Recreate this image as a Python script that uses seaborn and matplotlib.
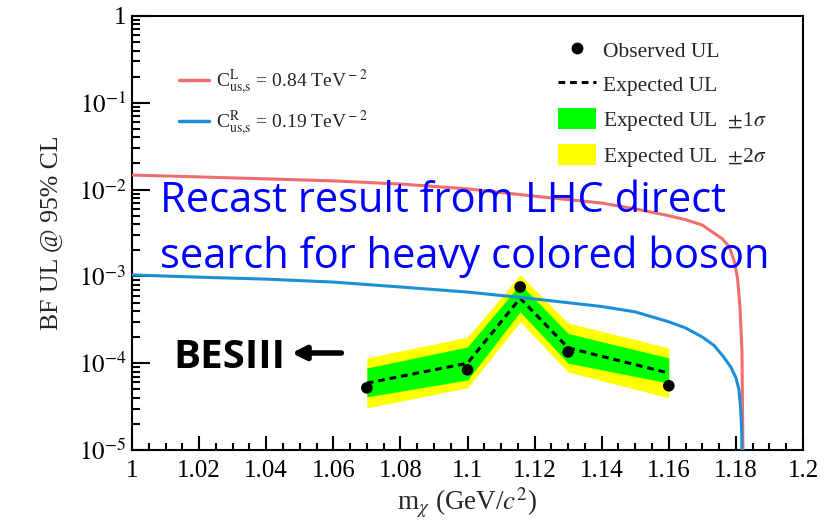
import matplotlib
matplotlib.use("Agg")
import matplotlib.pyplot as plt
from matplotlib.lines import Line2D
from matplotlib.patches import Patch
from matplotlib.ticker import FixedLocator, FixedFormatter, MultipleLocator, LogLocator, NullFormatter
import numpy as np
import pandas as pd
import seaborn as sns

# recast curves (LHC direct search)
mass_L = [1.00, 1.02, 1.04, 1.06, 1.08, 1.10, 1.12, 1.14, 1.15, 1.16, 1.165, 1.17, 1.1735, 1.176, 1.178,
          1.1795, 1.1805, 1.1812, 1.1818, 1.1821]
bf_L = [1.47e-2, 1.40e-2, 1.33e-2, 1.26e-2, 1.16e-2, 1.02e-2, 8.4e-3, 7.0e-3, 6.0e-3, 5.0e-3, 4.5e-3, 3.9e-3,
        3.15e-3, 2.7e-3, 2.2e-3, 1.5e-3, 9.5e-4, 4.5e-4, 1.4e-4, 1e-5]
mass_R = [1.00, 1.02, 1.04, 1.06, 1.08, 1.10, 1.12, 1.14, 1.15, 1.16, 1.165, 1.17, 1.1735, 1.1762, 1.1785,
          1.1800, 1.1809, 1.1814, 1.1817, 1.1818]
bf_R = [1.04e-3, 9.8e-4, 9.3e-4, 8.6e-4, 7.55e-4, 6.6e-4, 5.5e-4, 4.5e-4, 3.9e-4, 3.0e-4, 2.55e-4, 2.0e-4,
        1.6e-4, 1.2e-4, 9.0e-5, 6.8e-5, 5.0e-5, 3.0e-5, 1.8e-5, 1e-5]

# BESIII upper limits
mass_pts = [1.07, 1.10, 1.1157, 1.13, 1.16]
obs_ul = [5.2e-5, 8.4e-5, 7.55e-4, 1.35e-4, 5.5e-5]
exp_ul = [5.9e-5, 1.0e-4, 5.6e-4, 1.5e-4, 7.7e-5]
exp_1s_lo = [4.1e-5, 6.4e-5, 3.9e-4, 1.0e-4, 5.9e-5]
exp_1s_hi = [8.8e-5, 1.54e-4, 8.2e-4, 2.2e-4, 1.15e-4]
exp_2s_lo = [3.05e-5, 5.2e-5, 3.0e-4, 7.9e-5, 4.0e-5]
exp_2s_hi = [1.15e-4, 2.0e-4, 1.04e-3, 2.9e-4, 1.5e-4]

x_ticks = [1.0, 1.02, 1.04, 1.06, 1.08, 1.1, 1.12, 1.14, 1.16, 1.18, 1.2]
x_tick_labels = ["1", "1.02", "1.04", "1.06", "1.08", "1.1", "1.12", "1.14", "1.16", "1.18", "1.2"]
y_ticks = [1e-5, 1e-4, 1e-3, 1e-2, 1e-1, 1]
y_tick_labels = [r"$10^{-5}$", r"$10^{-4}$", r"$10^{-3}$", r"$10^{-2}$", r"$10^{-1}$", "1"]

RED = "#f26d6d"
BLUE = "#1d8fd6"

sns.set_style("ticks")
plt.rcParams["font.family"] = "serif"
plt.rcParams["font.serif"] = ["Liberation Serif", "DejaVu Serif"]
plt.rcParams["mathtext.fontset"] = "stix"

fig = plt.figure(figsize=(8.33, 5.26), dpi=100)
ax = fig.add_axes([132 / 833, 76 / 526, 671 / 833, 434 / 526])
ax.set_yscale("log")

ax.fill_between(mass_pts, exp_2s_lo, exp_2s_hi, color="#ffff00", lw=0, zorder=2)
ax.fill_between(mass_pts, exp_1s_lo, exp_1s_hi, color="#00ff00", lw=0, zorder=3)

df_exp = pd.DataFrame({"m": mass_pts, "bf": exp_ul})
sns.lineplot(data=df_exp, x="m", y="bf", ax=ax, color="black", lw=2.2, linestyle=(0, (2.2, 1.6)), zorder=4)
df_obs = pd.DataFrame({"m": mass_pts, "bf": obs_ul})
sns.scatterplot(data=df_obs, x="m", y="bf", ax=ax, color="black", s=70, edgecolor="none", zorder=6)

df_L = pd.DataFrame({"m": mass_L, "bf": bf_L})
df_R = pd.DataFrame({"m": mass_R, "bf": bf_R})
sns.lineplot(data=df_L, x="m", y="bf", ax=ax, color=RED, lw=2.2, zorder=5)
sns.lineplot(data=df_R, x="m", y="bf", ax=ax, color=BLUE, lw=2.2, zorder=5)

ax.set_xlim(1.0, 1.2)
ax.set_ylim(1e-5, 1)

ax.xaxis.set_major_locator(FixedLocator(x_ticks))
ax.xaxis.set_major_formatter(FixedFormatter(x_tick_labels))
ax.xaxis.set_minor_locator(MultipleLocator(0.005))
ax.yaxis.set_major_locator(FixedLocator(y_ticks))
ax.yaxis.set_major_formatter(FixedFormatter(y_tick_labels))
ax.yaxis.set_minor_locator(LogLocator(base=10, subs=np.arange(2, 10)))
ax.yaxis.set_minor_formatter(NullFormatter())

ax.tick_params(which="both", direction="in", top=False, right=False, labelsize=18, width=1.5, colors="black")
ax.tick_params(axis="x", which="major", length=10, pad=7)
ax.tick_params(axis="x", which="minor", length=5)
ax.tick_params(axis="y", which="major", length=13, pad=4)
ax.tick_params(axis="y", which="minor", length=6)
for sp in ax.spines.values():
    sp.set_linewidth(1.5)
    sp.set_color("black")

ax.set_xlabel(r"m$_{\chi}$ (GeV/$c^{2}$)", fontsize=19.5, labelpad=3)
ax.set_ylabel("BF UL @ 95% CL", fontsize=18.5, labelpad=12)

# legends
lh = [Line2D([], [], color=RED, lw=2.5), Line2D([], [], color=BLUE, lw=2.5)]
ll = [r"C$^{\rm L}_{\rm us{,}s}$ = 0.84 TeV$^{\rm -2}$", r"C$^{\rm R}_{\rm us{,}s}$ = 0.19 TeV$^{\rm -2}$"]
leg1 = ax.legend(lh, ll, loc="upper left", bbox_to_anchor=(0.070, 0.882), frameon=False, fontsize=14,
                 handlelength=1.55, handletextpad=0.35, labelspacing=0.6, borderpad=0, borderaxespad=0)
ax.add_artist(leg1)

rh = [Line2D([], [], color="black", marker="o", ls="none", markersize=7.5),
      Line2D([], [], color="black", lw=2.2, ls=(0, (2.2, 1.6))),
      Patch(facecolor="#00ff00", edgecolor="none"),
      Patch(facecolor="#ffff00", edgecolor="none")]
rl = ["Observed UL", "Expected UL", r"Expected UL  $\pm$1$\sigma$", r"Expected UL  $\pm$2$\sigma$"]
ax.legend(rh, rl, loc="upper left", bbox_to_anchor=(0.635, 0.947), frameon=False, fontsize=15.5,
          handlelength=1.75, handleheight=1.1, handletextpad=0.33, labelspacing=0.55, borderpad=0, borderaxespad=0)

# annotations
ax.text(0.042, 0.548, "Recast result from LHC direct", transform=ax.transAxes, fontsize=30,
        family="Open Sans", color="#0000ff", va="baseline", ha="left", zorder=7)
ax.text(0.042, 0.419, "search for heavy colored boson", transform=ax.transAxes, fontsize=30,
        family="Open Sans", color="#0000ff", va="baseline", ha="left", zorder=7)
ax.text(0.061, 0.189, "BESIII", transform=ax.transAxes, fontsize=29, family="Open Sans",
        fontweight="bold", color="black", va="baseline", ha="left")
ax.annotate("", xy=(0.238, 0.2235), xytext=(0.312, 0.2235), xycoords="axes fraction",
            arrowprops=dict(arrowstyle="-|>,head_length=0.8,head_width=0.4", color="black", lw=4,
                            shrinkA=0, shrinkB=0))

fig.savefig("out.png", dpi=100)
